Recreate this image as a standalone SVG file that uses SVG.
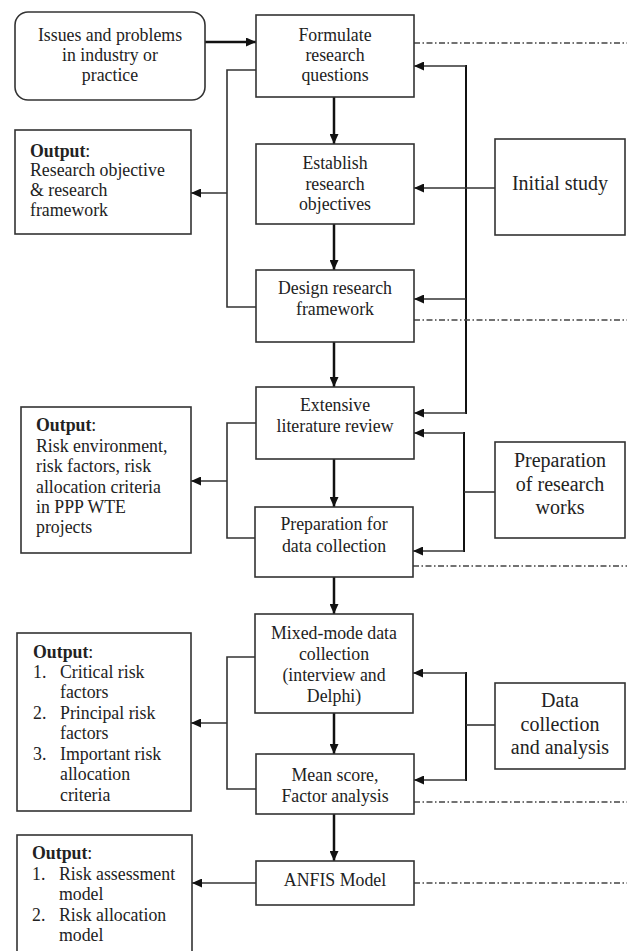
<svg xmlns="http://www.w3.org/2000/svg" width="627" height="951" viewBox="0 0 627 951">
<defs>
<marker id="ah" markerWidth="10" markerHeight="9" refX="10" refY="4.5" orient="auto" markerUnits="userSpaceOnUse">
<path d="M0,0 L10,4.5 L0,9 Z" fill="#111"/>
</marker>
</defs>
<style>
.box{fill:#fff;stroke:#333;stroke-width:1.6}
text{font-family:'Liberation Serif','DejaVu Serif',serif;font-size:17.8px;fill:#222}
.c{text-anchor:middle}
.big{font-size:20px}
.b{font-weight:bold}
.thick{stroke:#111;stroke-width:2.5;fill:none}
.thin{stroke:#333;stroke-width:1.6;fill:none}
.dd{stroke:#444;stroke-width:1.4;stroke-dasharray:6 2.5 1.5 2.5;fill:none}
</style>
<rect width="627" height="951" fill="#fff"/>
<g id="connectors">
<line class="thick" x1="205" y1="42" x2="256" y2="42" marker-end="url(#ah)"/>
<line class="thick" x1="334" y1="97" x2="334" y2="144" marker-end="url(#ah)"/>
<line class="thick" x1="334" y1="224" x2="334" y2="270" marker-end="url(#ah)"/>
<line class="thick" x1="334" y1="342" x2="334" y2="387" marker-end="url(#ah)"/>
<line class="thick" x1="334" y1="459" x2="334" y2="507" marker-end="url(#ah)"/>
<line class="thick" x1="334" y1="577" x2="334" y2="614" marker-end="url(#ah)"/>
<line class="thick" x1="334" y1="713" x2="334" y2="754" marker-end="url(#ah)"/>
<line class="thick" x1="334" y1="814" x2="334" y2="861" marker-end="url(#ah)"/>
<polyline class="thin" points="256,70 227,70 227,307 256,307"/>
<line class="thin" x1="227" y1="193" x2="191" y2="193" marker-end="url(#ah)"/>
<polyline class="thin" points="256,423 227,423 227,538 255,538"/>
<line class="thin" x1="227" y1="481" x2="191" y2="481" marker-end="url(#ah)"/>
<polyline class="thin" points="255,657 227,657 227,789 256,789"/>
<line class="thin" x1="227" y1="723" x2="191" y2="723" marker-end="url(#ah)"/>
<line class="thin" x1="256" y1="883" x2="192" y2="883" marker-end="url(#ah)"/>
<line class="thick" x1="466" y1="65" x2="466" y2="414" style="stroke-width:2"/>
<line class="thin" x1="466" y1="66" x2="414" y2="66" marker-end="url(#ah)"/>
<line class="thin" x1="495" y1="188" x2="414" y2="188" marker-end="url(#ah)"/>
<line class="thin" x1="466" y1="299" x2="414" y2="299" marker-end="url(#ah)"/>
<line class="thin" x1="466" y1="413" x2="414" y2="413" marker-end="url(#ah)"/>
<line class="thick" x1="464" y1="432" x2="464" y2="552" style="stroke-width:2"/>
<line class="thin" x1="464" y1="433" x2="414" y2="433" marker-end="url(#ah)"/>
<line class="thin" x1="495" y1="492" x2="464" y2="492"/>
<line class="thin" x1="464" y1="551" x2="413" y2="551" marker-end="url(#ah)"/>
<line class="thick" x1="466" y1="672" x2="466" y2="781" style="stroke-width:2"/>
<line class="thin" x1="466" y1="673" x2="413" y2="673" marker-end="url(#ah)"/>
<line class="thin" x1="495" y1="725" x2="466" y2="725"/>
<line class="thin" x1="466" y1="780" x2="414" y2="780" marker-end="url(#ah)"/>
<line class="dd" x1="414" y1="43" x2="627" y2="43"/>
<line class="dd" x1="414" y1="320" x2="627" y2="320"/>
<line class="dd" x1="413" y1="566" x2="627" y2="566"/>
<line class="dd" x1="414" y1="802" x2="627" y2="802"/>
<line class="dd" x1="414" y1="883" x2="627" y2="883"/>
</g>
<g id="issues">
<rect class="box" x="15" y="12" width="190" height="88" rx="13"/>
<text class="c" x="110" y="41">Issues and problems</text>
<text class="c" x="110" y="61">in industry or</text>
<text class="c" x="110" y="81">practice</text>
</g>
<g id="formulate">
<rect class="box" x="256" y="15" width="158" height="82"/>
<text class="c" x="335" y="41">Formulate</text>
<text class="c" x="335" y="61">research</text>
<text class="c" x="335" y="81">questions</text>
</g>
<g id="output1">
<rect class="box" x="15" y="130" width="176" height="104"/>
<text x="30" y="157"><tspan class="b">Output</tspan>:</text>
<text x="30" y="176">Research objective</text>
<text x="30" y="196">&amp; research</text>
<text x="30" y="216">framework</text>
</g>
<g id="establish">
<rect class="box" x="256" y="144" width="158" height="80"/>
<text class="c" x="335" y="169">Establish</text>
<text class="c" x="335" y="190">research</text>
<text class="c" x="335" y="210">objectives</text>
</g>
<g id="initial">
<rect class="box" x="495" y="139" width="130" height="96"/>
<text class="c big" x="560" y="190">Initial study</text>
</g>
<g id="design">
<rect class="box" x="256" y="270" width="158" height="72"/>
<text class="c" x="335" y="294">Design research</text>
<text class="c" x="335" y="315">framework</text>
</g>
<g id="extensive">
<rect class="box" x="256" y="387" width="158" height="72"/>
<text class="c" x="335" y="411">Extensive</text>
<text class="c" x="335" y="432">literature review</text>
</g>
<g id="output2">
<rect class="box" x="21" y="407" width="170" height="146"/>
<text x="36" y="431"><tspan class="b">Output</tspan>:</text>
<text x="36" y="452">Risk environment,</text>
<text x="36" y="472">risk factors, risk</text>
<text x="36" y="493">allocation criteria</text>
<text x="36" y="513">in PPP WTE</text>
<text x="36" y="533">projects</text>
</g>
<g id="prepworks">
<rect class="box" x="495" y="442" width="130" height="96"/>
<text class="c big" x="560" y="467">Preparation</text>
<text class="c big" x="560" y="491">of research</text>
<text class="c big" x="560" y="514">works</text>
</g>
<g id="prepdata">
<rect class="box" x="255" y="507" width="158" height="70"/>
<text class="c" x="334" y="530">Preparation for</text>
<text class="c" x="334" y="552">data collection</text>
</g>
<g id="mixed">
<rect class="box" x="255" y="614" width="158" height="99"/>
<text class="c" x="334" y="639">Mixed-mode data</text>
<text class="c" x="334" y="660">collection</text>
<text class="c" x="334" y="681">(interview and</text>
<text class="c" x="334" y="702">Delphi)</text>
</g>
<g id="output3">
<rect class="box" x="17" y="633" width="174" height="178"/>
<text x="33" y="658"><tspan class="b">Output</tspan>:</text>
<text x="33" y="678">1.</text>
<text x="60" y="678">Critical risk</text>
<text x="60" y="698">factors</text>
<text x="33" y="719">2.</text>
<text x="60" y="719">Principal risk</text>
<text x="60" y="739">factors</text>
<text x="33" y="760">3.</text>
<text x="60" y="760">Important risk</text>
<text x="60" y="780">allocation</text>
<text x="60" y="801">criteria</text>
</g>
<g id="datacoll">
<rect class="box" x="495" y="683" width="130" height="86"/>
<text class="c big" x="560" y="707">Data</text>
<text class="c big" x="560" y="731">collection</text>
<text class="c big" x="560" y="754">and analysis</text>
</g>
<g id="mean">
<rect class="box" x="256" y="754" width="158" height="60"/>
<text class="c" x="335" y="781">Mean score,</text>
<text class="c" x="335" y="802">Factor analysis</text>
</g>
<g id="anfis">
<rect class="box" x="256" y="861" width="158" height="44"/>
<text class="c" x="335" y="886">ANFIS Model</text>
</g>
<g id="output4">
<rect class="box" x="17" y="835" width="175" height="130"/>
<text x="32" y="859"><tspan class="b">Output</tspan>:</text>
<text x="32" y="880">1.</text>
<text x="59" y="880">Risk assessment</text>
<text x="59" y="900">model</text>
<text x="32" y="921">2.</text>
<text x="59" y="921">Risk allocation</text>
<text x="59" y="941">model</text>
</g>
</svg>
